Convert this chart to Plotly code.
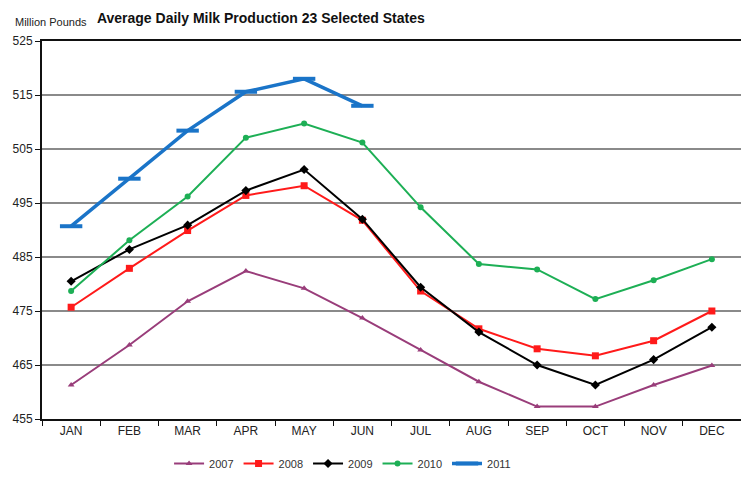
import plotly.graph_objects as go

months = ["JAN", "FEB", "MAR", "APR", "MAY", "JUN", "JUL", "AUG", "SEP", "OCT", "NOV", "DEC"]
y2007 = [461.3, 468.7, 476.8, 482.4, 479.2, 473.7, 467.8, 461.9, 457.3, 457.3, 461.3, 464.9]
y2008 = [475.7, 482.9, 489.9, 496.4, 498.2, 491.8, 478.7, 471.7, 468.0, 466.7, 469.5, 475.0]
y2009 = [480.5, 486.4, 490.9, 497.3, 501.2, 492.0, 479.4, 471.1, 465.0, 461.3, 466.0, 472.0]
y2010 = [478.7, 488.1, 496.2, 507.1, 509.7, 506.2, 494.2, 483.7, 482.7, 477.2, 480.7, 484.6]
y2011 = [490.7, 499.5, 508.4, 515.6, 518.0, 513.0]
y_ticks = [455, 465, 475, 485, 495, 505, 515, 525]

FONT = "Arial, Liberation Sans, sans-serif"

fig = go.Figure()
fig.add_trace(go.Scatter(x=months, y=y2007, name="2007", mode="lines+markers",
                         line=dict(color="#993D7A", width=2),
                         marker=dict(symbol="triangle-up", size=6, color="#993D7A")))
fig.add_trace(go.Scatter(x=months, y=y2008, name="2008", mode="lines+markers",
                         line=dict(color="#FF1A1A", width=2),
                         marker=dict(symbol="square", size=7, color="#FF1A1A")))
fig.add_trace(go.Scatter(x=months, y=y2009, name="2009", mode="lines+markers",
                         line=dict(color="#000000", width=2),
                         marker=dict(symbol="diamond", size=7, color="#000000")))
fig.add_trace(go.Scatter(x=months, y=y2010, name="2010", mode="lines+markers",
                         line=dict(color="#1DAF55", width=2),
                         marker=dict(symbol="circle", size=6, color="#1DAF55")))
fig.add_trace(go.Scatter(x=months[:len(y2011)], y=y2011, name="2011", mode="lines+markers",
                         line=dict(color="#1A74C8", width=3.5),
                         marker=dict(symbol="line-ew", size=16, color="#1A74C8",
                                     line=dict(color="#1A74C8", width=4))))

fig.update_layout(
    width=741, height=478,
    margin=dict(l=42, r=0, t=41, b=57),
    paper_bgcolor="white", plot_bgcolor="white",
    font=dict(family=FONT, size=12, color="#222222"),
    title=dict(text="<b>Average Daily Milk Production 23 Selected States</b>",
               xref="container", yref="container", x=0.352, y=0.962,
               xanchor="center", yanchor="middle",
               font=dict(family=FONT, size=14, color="#111111")),
    showlegend=True,
    legend=dict(orientation="h", x=0.43, y=-0.118, xanchor="center", yanchor="middle",
                font=dict(size=11, color="#333333"), itemwidth=30, tracegroupgap=0),
    annotations=[dict(text="Million Pounds", xref="paper", yref="paper",
                      x=-0.042, y=1.05, xanchor="left", yanchor="middle",
                      showarrow=False, font=dict(size=11, color="#222222"))],
)
fig.update_xaxes(type="category", categoryorder="array", categoryarray=months,
                 range=[-0.5, 11.5], showline=True, mirror=True, linecolor="#111111", linewidth=2,
                 ticks="outside", tickson="boundaries", ticklen=5, tickcolor="#111111",
                 showgrid=False, tickfont=dict(size=12, color="#222222"))
fig.update_yaxes(range=[455, 525], tickvals=y_ticks, showline=True, linecolor="#111111", linewidth=2,
                 ticks="outside", ticklen=5, tickcolor="#111111",
                 showgrid=True, gridcolor="#8a8a8a", gridwidth=1.5, zeroline=False,
                 tickfont=dict(size=12, color="#222222"))

fig.write_html("out.html")
